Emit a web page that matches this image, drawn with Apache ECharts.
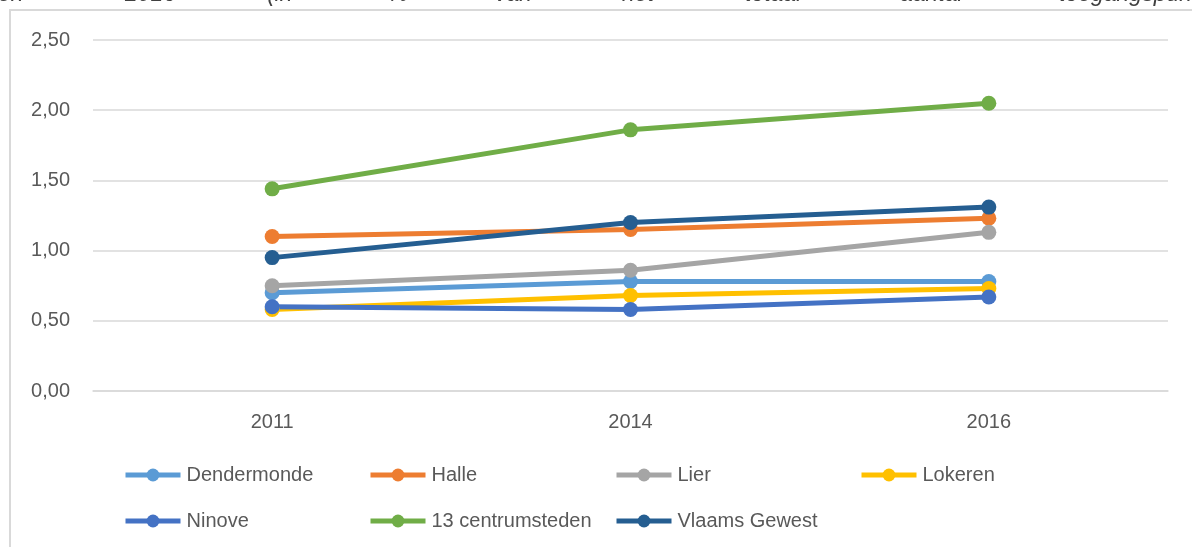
<!DOCTYPE html>
<html>
<head>
<meta charset="utf-8">
<script src="https://cdn.jsdelivr.net/npm/echarts@6/dist/echarts.min.js"></script>
<style>
  html, body { margin: 0; padding: 0; background: #fff; }
  #chart { width: 1192px; height: 547px; }
</style>
</head>
<body>
<div id="chart"></div>
<script>
var years = ['2011', '2014', '2016'];
var dendermonde = [0.70, 0.78, 0.78];
var halle = [1.10, 1.15, 1.23];
var lier = [0.75, 0.86, 1.13];
var lokeren = [0.58, 0.68, 0.73];
var ninove = [0.60, 0.58, 0.67];
var centrumsteden = [1.44, 1.86, 2.05];
var vlaamsGewest = [0.95, 1.20, 1.31];
var yTicks = [0, 0.5, 1, 1.5, 2, 2.5];

// bovenste (afgesneden) regel van de bijschrift-tekst
var captionWords = ['en', '2016', '(in', '%', 'van', 'het', 'totaal', 'aantal', 'toegangspunten'];
var captionX = [-2, 125, 267, 388, 495, 622, 745, 900, 1059];

var names = ['Dendermonde', 'Halle', 'Lier', 'Lokeren', 'Ninove', '13 centrumsteden', 'Vlaams Gewest'];
var values = [dendermonde, halle, lier, lokeren, ninove, centrumsteden, vlaamsGewest];
var colors = ['#5B9BD5', '#ED7D31', '#A5A5A5', '#FFC000', '#4472C4', '#70AD47', '#255E91'];

var chart = echarts.init(document.getElementById('chart'));
var font = 'Liberation Sans, Arial, sans-serif';

var series = names.map(function (name, i) {
    return {
        name: name,
        type: 'line',
        data: values[i],
        symbol: 'circle',
        symbolSize: 15,
        color: colors[i],
        lineStyle: { width: 5, color: colors[i] },
        itemStyle: { color: colors[i] }
    };
});

// legenda in kolommen zoals in Excel
var legendCols = [
    { left: 123, data: ['Dendermonde', 'Ninove'] },
    { left: 368, data: ['Halle', '13 centrumsteden'] },
    { left: 614, data: ['Lier', 'Vlaams Gewest'] },
    { left: 859, data: ['Lokeren'] }
];
var legends = legendCols.map(function (c) {
    return {
        orient: 'vertical',
        left: c.left,
        top: 465,
        itemGap: 26,
        itemWidth: 55,
        itemHeight: 16,
        padding: 0,
        data: c.data,
        lineStyle: { width: 5 },
        textStyle: { color: '#595959', fontSize: 20, fontFamily: font, padding: [0, 0, 0, 1] },
        selectedMode: false
    };
});

var graphics = [{
    type: 'rect',
    shape: { x: 10, y: 10, width: 1200, height: 560 },
    style: { fill: null, stroke: '#d9d9d9', lineWidth: 2 },
    silent: true
}];
captionWords.forEach(function (w, i) {
    graphics.push({
        type: 'text',
        x: captionX[i],
        y: -5,
        style: {
            text: w,
            font: 'italic 23px Liberation Sans, Arial, sans-serif',
            fill: '#404040',
            verticalAlign: 'middle'
        },
        silent: true
    });
});

chart.setOption({
    animation: false,
    backgroundColor: '#fff',
    grid: { left: 93, right: 24, top: 40, bottom: 156 },
    legend: legends,
    graphic: graphics,
    xAxis: {
        type: 'category',
        data: years,
        boundaryGap: true,
        axisLine: { lineStyle: { color: '#d9d9d9', width: 1.5 } },
        axisTick: { show: false },
        axisLabel: { color: '#595959', fontSize: 20, fontFamily: font, margin: 21 }
    },
    yAxis: {
        type: 'value',
        min: yTicks[0],
        max: yTicks[yTicks.length - 1],
        interval: 0.5,
        axisLine: { show: false },
        axisTick: { show: false },
        splitLine: { lineStyle: { color: '#d9d9d9', width: 1.5 } },
        axisLabel: {
            color: '#595959', fontSize: 20, fontFamily: font, margin: 23,
            formatter: function (v) { return v.toFixed(2).replace('.', ','); }
        }
    },
    series: series
});
</script>
</body>
</html>
